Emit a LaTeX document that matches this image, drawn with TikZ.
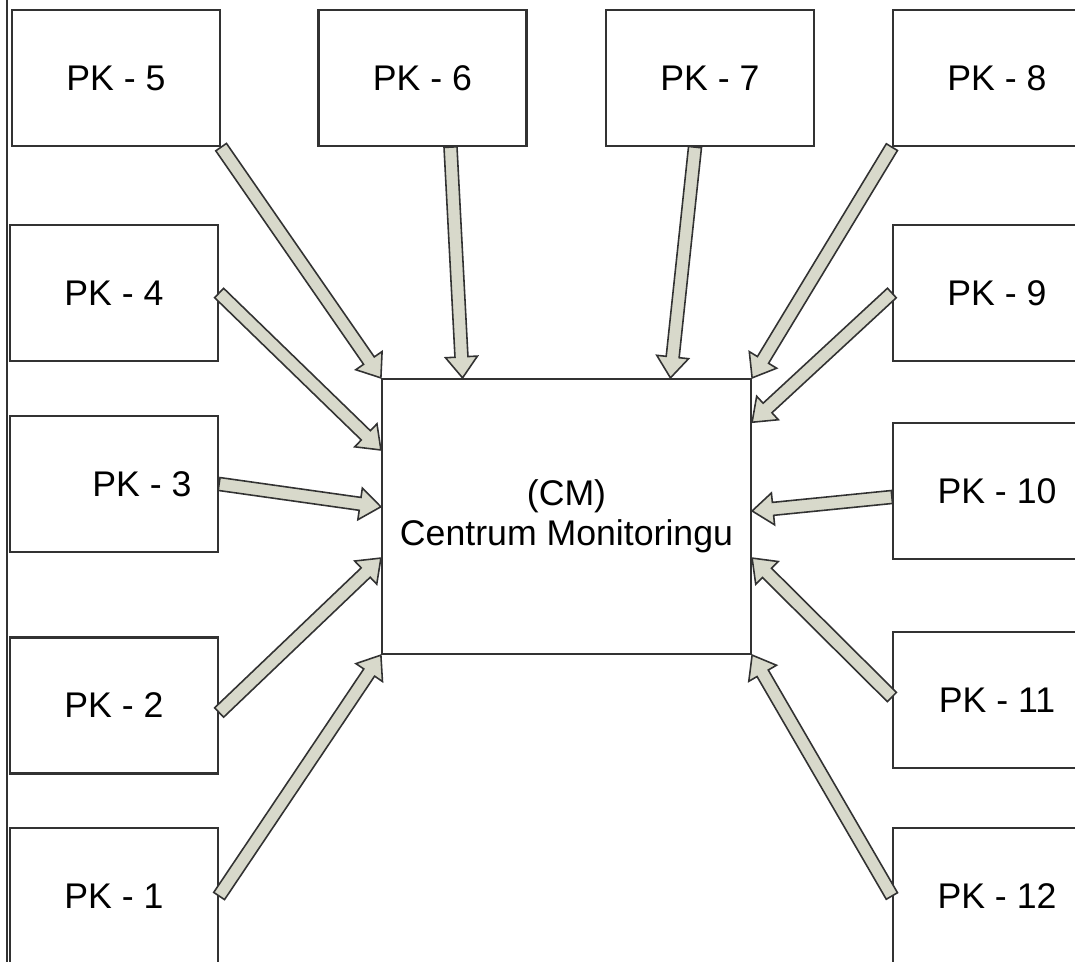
\documentclass[tikz,border=0pt]{standalone}
\usepackage{fontspec}
\setmainfont{Liberation Sans}
\usetikzlibrary{calc}

\definecolor{feedfill}{RGB}{216,217,203}
\definecolor{edgegray}{RGB}{50,50,50}

\tikzset{
  pkbox/.style={draw=edgegray, line width=1.3pt, minimum width=4.16cm, minimum height=2.72cm, inner sep=0pt, font=\fontsize{20.3}{24}\selectfont},
  cmbox/.style={draw=edgegray, line width=1.3pt, minimum width=7.38cm, minimum height=5.5cm, inner sep=0pt, align=center, font=\fontsize{20.3}{22.7}\selectfont},
  feedarrow/.style={draw=edgegray, line width=0.9pt, fill=feedfill, line join=miter}
}

% hollow block arrow from #1 to #2
\newcommand{\feed}[2]{%
  \coordinate (fa) at #1;
  \coordinate (fb) at #2;
  \coordinate (fc) at ($(fb)!0.42cm!(fa)$);
  \draw[feedarrow] ($(fa)!0.13cm!90:(fb)$) -- ($(fc)!0.13cm!-90:(fa)$) -- ($(fc)!0.32cm!-90:(fa)$) -- (fb)
    -- ($(fc)!0.32cm!90:(fa)$) -- ($(fc)!0.13cm!90:(fa)$) -- ($(fa)!0.13cm!-90:(fb)$) -- cycle;}

\begin{document}
\begin{tikzpicture}[x=0.02cm, y=-0.02cm]
  \useasboundingbox (0,0) rectangle (1075,962);
  \clip (0,0) rectangle (1075,962);
  \fill[white] (0,0) rectangle (1075,962);
  \draw[edgegray, line width=0.6pt] (7,0) -- (7,962);

  % Monitoring centre
  \node[cmbox] (cm) at (566.5,516.5) {\raisebox{0.12cm}{(CM)}\\\raisebox{0.12cm}{Centrum Monitoringu}};

  % Top row
  \node[pkbox] (pk5) at (116,78) {PK - 5};
  \node[pkbox] (pk6) at (422.5,78) {PK - 6};
  \node[pkbox] (pk7) at (710,78) {PK - 7};
  \node[pkbox] (pk8) at (997,78) {PK - 8};

  % Left column
  \node[pkbox] (pk4) at (114,293) {PK - 4};
  \node[pkbox] (pk3) at (114,484) {\hspace*{1.12cm}PK - 3};
  \node[pkbox] (pk2) at (114,705.5) {PK - 2};
  \node[pkbox] (pk1) at (114,896) {PK - 1};

  % Right column
  \node[pkbox] (pk9) at (997,293) {PK - 9};
  \node[pkbox] (pk10) at (997,491) {PK - 10};
  \node[pkbox] (pk11) at (997,700) {PK - 11};
  \node[pkbox] (pk12) at (997,896) {PK - 12};

  % Arrows into CM
  \feed{(pk1.east)}{(cm.south west)}
  \feed{($(pk2.east)+(0,7)$)}{($(cm.north west)!0.65!(cm.south west)$)}
  \feed{(pk3.east)}{($(cm.north west)!0.465!(cm.south west)$)}
  \feed{(pk4.east)}{($(cm.north west)!0.26!(cm.south west)$)}
  \feed{(pk5.south east)}{(cm.north west)}
  \feed{($(pk6.south)+(28,0)$)}{($(cm.north west)!0.22!(cm.north east)$)}
  \feed{($(pk7.south)+(-15,0)$)}{($(cm.north west)!0.78!(cm.north east)$)}
  \feed{(pk8.south west)}{(cm.north east)}
  \feed{(pk9.west)}{($(cm.north east)!0.16!(cm.south east)$)}
  \feed{($(pk10.west)+(0,6)$)}{($(cm.north east)!0.48!(cm.south east)$)}
  \feed{($(pk11.west)+(0,-3)$)}{($(cm.north east)!0.65!(cm.south east)$)}
  \feed{(pk12.west)}{(cm.south east)}
\end{tikzpicture}
\end{document}
